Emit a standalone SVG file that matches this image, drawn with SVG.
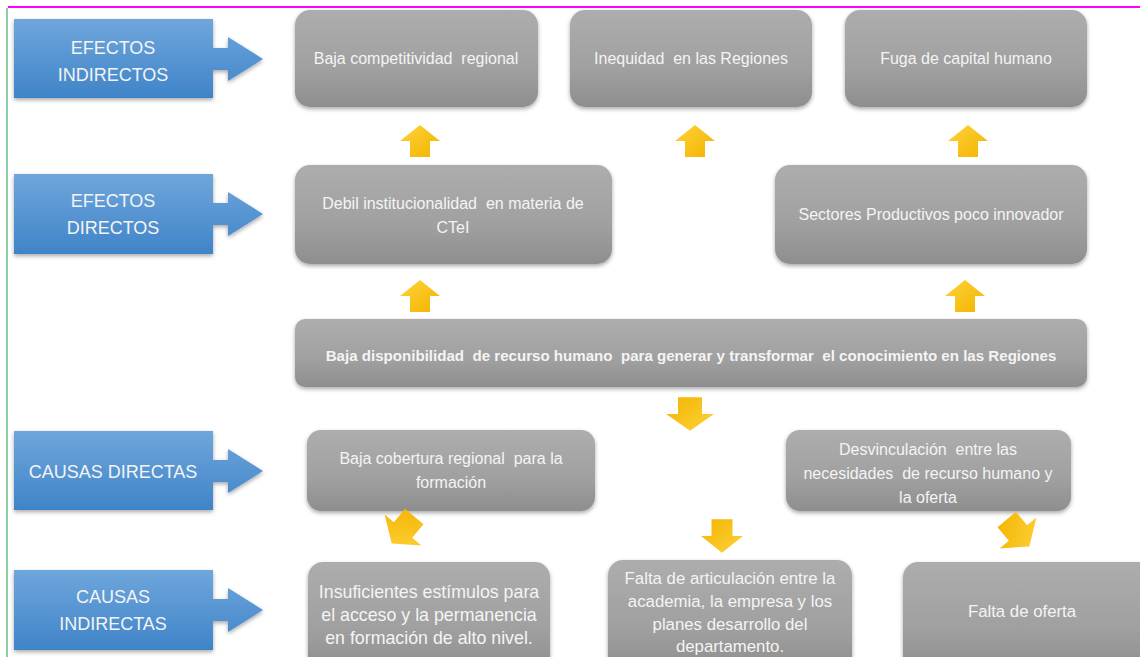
<svg xmlns="http://www.w3.org/2000/svg" width="1140" height="657" viewBox="0 0 1140 657">
<defs>
<linearGradient id="gGray" x1="0" y1="0" x2="0" y2="1">
<stop offset="0" stop-color="#adadad"/>
<stop offset="0.6" stop-color="#a0a0a0"/>
<stop offset="1" stop-color="#8e8e8e"/>
</linearGradient>
<linearGradient id="gBlue" x1="0" y1="0" x2="0" y2="1">
<stop offset="0" stop-color="#6fa6dc"/>
<stop offset="1" stop-color="#3f84c8"/>
</linearGradient>
<linearGradient id="gYel" x1="0" y1="0" x2="1" y2="1">
<stop offset="0" stop-color="#ffd23a"/>
<stop offset="1" stop-color="#f2b400"/>
</linearGradient>
<filter id="sh" x="-10%" y="-10%" width="120%" height="130%">
<feGaussianBlur in="SourceAlpha" stdDeviation="2"/>
<feOffset dx="0" dy="2"/>
<feComponentTransfer><feFuncA type="linear" slope="0.35"/></feComponentTransfer>
<feMerge><feMergeNode/><feMergeNode in="SourceGraphic"/></feMerge>
</filter>
<path id="upArrow" d="M0,-16 L20,0 L10,0 L10,16 L-10,16 L-10,0 L-20,0 Z"/>
</defs>
<style>
.gbox{fill:url(#gGray);filter:url(#sh);}
.bbox{fill:url(#gBlue);filter:url(#sh);}
.gt{font-family:"Liberation Sans","Open Sans",sans-serif;font-size:16px;fill:#f4f4f4;text-anchor:middle;white-space:pre;}
.bt{font-family:"Liberation Sans","Open Sans",sans-serif;font-size:18px;fill:#f4f4f4;text-anchor:middle;}
.bold{font-family:"Liberation Sans",sans-serif;font-weight:bold;font-size:15.1px;fill:#f4f4f4;text-anchor:middle;white-space:pre;}
.big{font-size:16.8px;}
.big2{font-size:17.8px;}
.ya{fill:url(#gYel);}
</style>
<rect x="0" y="0" width="1140" height="657" fill="#ffffff"/>
<line x1="8" y1="7" x2="1140" y2="7" stroke="#ff00ff" stroke-width="2"/>
<line x1="7" y1="8" x2="7" y2="657" stroke="#1aa050" stroke-width="1"/>

<g id="lbl-efectos-indirectos">
<path class="bbox" d="M14,19 H213 V48 H228 V37 L263,59 L228,81 V70 H213 V98 H14 Z"/>
<text class="bt" x="113" y="54">EFECTOS</text>
<text class="bt" x="113" y="81">INDIRECTOS</text>
</g>
<g id="lbl-efectos-directos">
<path class="bbox" d="M14,174 H213 V203 H228 V192 L263,214 L228,236 V225 H213 V254 H14 Z"/>
<text class="bt" x="113" y="207">EFECTOS</text>
<text class="bt" x="113" y="234">DIRECTOS</text>
</g>
<g id="lbl-causas-directas">
<path class="bbox" d="M14,431 H213 V460 H228 V449 L263,471 L228,493 V482 H213 V510 H14 Z"/>
<text class="bt" x="113" y="478">CAUSAS DIRECTAS</text>
</g>
<g id="lbl-causas-indirectas">
<path class="bbox" d="M14,570 H213 V599 H228 V588 L263,610 L228,632 V621 H213 V650 H14 Z"/>
<text class="bt" x="113" y="603">CAUSAS</text>
<text class="bt" x="113" y="630">INDIRECTAS</text>
</g>

<g id="n-competitividad">
<rect class="gbox" x="295" y="10" width="243" height="97" rx="15"/>
<text class="gt" x="416" y="64">Baja competitividad  regional</text>
</g>
<g id="n-inequidad">
<rect class="gbox" x="570" y="10" width="242" height="97" rx="15"/>
<text class="gt" x="691" y="64">Inequidad  en las Regiones</text>
</g>
<g id="n-fuga">
<rect class="gbox" x="845" y="10" width="242" height="97" rx="15"/>
<text class="gt" x="966" y="64">Fuga de capital humano</text>
</g>
<g id="n-debil">
<rect class="gbox" x="295" y="165" width="317" height="99" rx="15"/>
<text class="gt" x="453" y="209">Debil institucionalidad  en materia de</text>
<text class="gt" x="453" y="233">CTeI</text>
</g>
<g id="n-sectores">
<rect class="gbox" x="775" y="165" width="312" height="99" rx="15"/>
<text class="gt" x="931" y="220">Sectores Productivos poco innovador</text>
</g>
<g id="n-central">
<rect class="gbox" x="295" y="319" width="792" height="68" rx="10"/>
<text class="bold" x="691" y="361">Baja disponibilidad  de recurso humano  para generar y transformar  el conocimiento en las Regiones</text>
</g>
<g id="n-cobertura">
<rect class="gbox" x="307" y="430" width="288" height="81" rx="14"/>
<text class="gt" x="451" y="464">Baja cobertura regional  para la</text>
<text class="gt" x="451" y="488">formación</text>
</g>
<g id="n-desvinculacion">
<rect class="gbox" x="786" y="430" width="285" height="81" rx="14"/>
<text class="gt" x="928" y="455">Desvinculación  entre las</text>
<text class="gt" x="928" y="479">necesidades  de recurso humano y</text>
<text class="gt" x="928" y="503">la oferta</text>
</g>
<g id="n-insuficientes">
<rect class="gbox" x="308" y="562" width="242" height="110" rx="15"/>
<text class="gt big2" x="429" y="598">Insuficientes estímulos para</text>
<text class="gt big2" x="429" y="621">el acceso y la permanencia</text>
<text class="gt big2" x="429" y="644">en formación de alto nivel.</text>
</g>
<g id="n-articulacion">
<rect class="gbox" x="608" y="560" width="244" height="112" rx="15"/>
<text class="gt big" x="730" y="584">Falta de articulación entre la</text>
<text class="gt big" x="730" y="607">academia, la empresa y los</text>
<text class="gt big" x="730" y="630">planes desarrollo del</text>
<text class="gt big" x="730" y="652">departamento.</text>
</g>
<g id="n-oferta">
<rect class="gbox" x="903" y="562" width="250" height="110" rx="15"/>
<text class="gt big" x="1022" y="617">Falta de oferta</text>
</g>

<g id="connectors">
<use href="#upArrow" class="ya" transform="translate(420,141)"/>
<use href="#upArrow" class="ya" transform="translate(695,141)"/>
<use href="#upArrow" class="ya" transform="translate(968,141)"/>
<use href="#upArrow" class="ya" transform="translate(420,296)"/>
<use href="#upArrow" class="ya" transform="translate(965,296)"/>
<use href="#upArrow" class="ya" transform="translate(690,414) rotate(180) scale(1.2,1.05)"/>
<use href="#upArrow" class="ya" transform="translate(722,536) rotate(180) scale(1.05,1.05)"/>
<use href="#upArrow" class="ya" transform="translate(403,530) rotate(-140) scale(1.2,1.1)"/>
<use href="#upArrow" class="ya" transform="translate(1018,533) rotate(140) scale(1.2,1.1)"/>
</g>
</svg>
